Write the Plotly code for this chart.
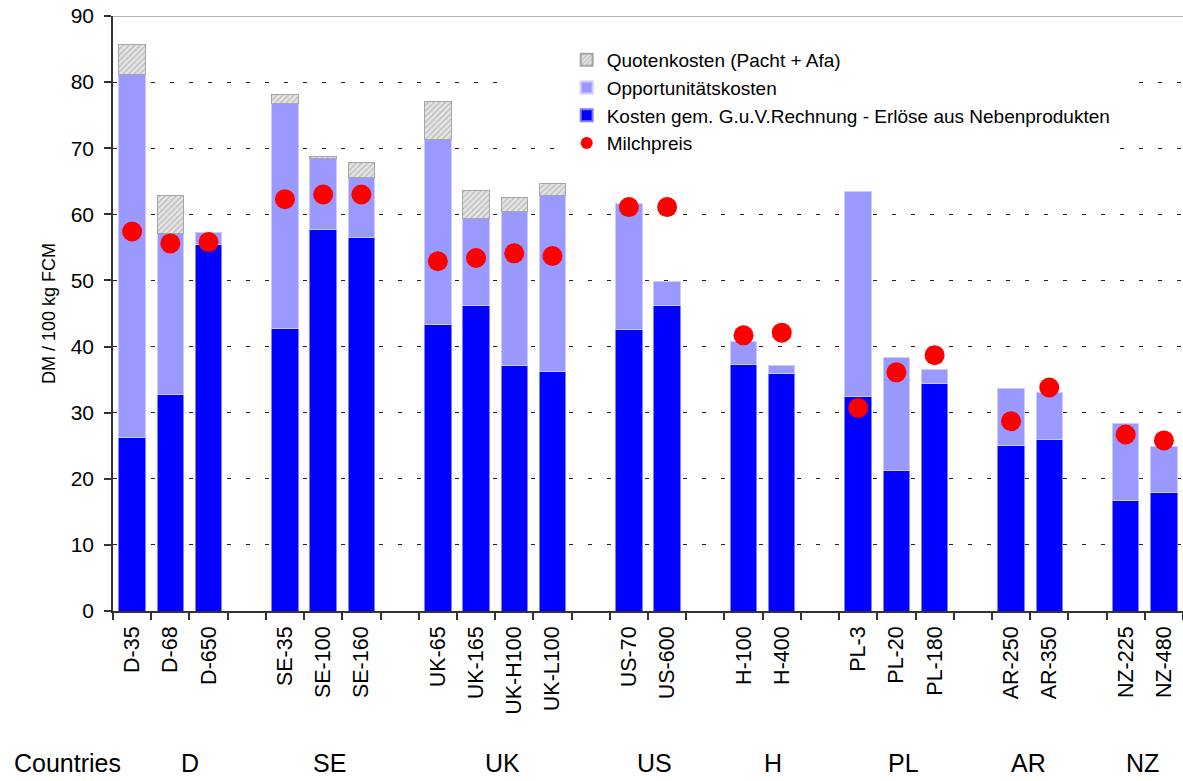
import plotly.graph_objects as go

# ---------------- data ----------------
countries = ["D", "SE", "UK", "US", "H", "PL", "AR", "NZ"]
farms = [
    ["D-35", "D-68", "D-650"],
    ["SE-35", "SE-100", "SE-160"],
    ["UK-65", "UK-165", "UK-H100", "UK-L100"],
    ["US-70", "US-600"],
    ["H-100", "H-400"],
    ["PL-3", "PL-20", "PL-180"],
    ["AR-250", "AR-350"],
    ["NZ-225", "NZ-480"],
]
kosten_guv = [26.3, 32.8, 55.4, 42.7, 57.7, 56.5, 43.3, 46.2, 37.2, 36.2,
              42.6, 46.2, 37.3, 35.9, 32.5, 21.2, 34.4, 25.0, 25.9, 16.7, 17.9]
opportunitaet = [54.8, 24.3, 1.9, 34.0, 10.7, 9.0, 28.0, 13.1, 23.3, 26.7,
                 19.1, 3.6, 3.5, 1.2, 31.0, 17.2, 2.2, 8.6, 7.1, 11.7, 7.0]
quote = [4.6, 5.7, 0.0, 1.5, 0.3, 2.4, 5.8, 4.3, 2.1, 1.8,
         0.0, 0.0, 0.0, 0.0, 0.0, 0.0, 0.0, 0.0, 0.0, 0.0, 0.0]
milchpreis = [57.4, 55.6, 55.8, 62.3, 63.0, 63.0, 52.9, 53.4, 54.1, 53.7,
              61.1, 61.1, 41.7, 42.1, 30.7, 36.1, 38.7, 28.7, 33.8, 26.7, 25.8]
y_ticks = [0, 10, 20, 30, 40, 50, 60, 70, 80, 90]

# ---------- build category axis with blank spacer slots ----------
cats, idx_map, group_centers = [], [], []
k = 0
for gi, grp in enumerate(farms):
    if gi > 0:
        cats.append(" " * gi)
        idx_map.append(None)
    start = len(cats)
    for f in grp:
        cats.append(f)
        idx_map.append(k)
        k += 1
    group_centers.append((start + len(cats) - 1) / 2)


def expand(vals):
    return [None if i is None else vals[i] for i in idx_map]


quote_full = expand(quote)
quote_line_w = [1 if (v is not None and v > 0) else 0 for v in quote_full]

FONT = "Liberation Sans, Arial, sans-serif"

fig = go.Figure()
fig.add_trace(go.Bar(
    x=cats, y=expand(kosten_guv),
    name="Kosten gem. G.u.V.Rechnung - Erlöse aus Nebenprodukten",
    marker=dict(color="#0000FF", line=dict(color="#7f7fff", width=1)),
    legendrank=3,
))
fig.add_trace(go.Bar(
    x=cats, y=expand(opportunitaet),
    name="Opportunitätskosten",
    marker=dict(color="#9999FF", line=dict(color="#ccccff", width=1)),
    legendrank=2,
))
fig.add_trace(go.Bar(
    x=cats, y=quote_full,
    name="Quotenkosten (Pacht + Afa)",
    marker=dict(color="#d9d9d9", line=dict(color="#a6a6a6", width=quote_line_w),
                pattern=dict(shape="/", fgcolor="#8c8c8c", bgcolor="#e6e6e6",
                             size=4, solidity=0.35)),
    legendrank=1,
))
fig.add_trace(go.Scatter(
    x=cats, y=expand(milchpreis), mode="markers",
    name="Milchpreis",
    marker=dict(color="#FF0000", size=20, line=dict(width=0)),
    legendrank=4,
))

# country labels row
ROW_Y = -0.283
annotations = [dict(text="Countries", xref="paper", yref="paper",
                    x=-0.0944, y=ROW_Y, xanchor="left", yanchor="bottom",
                    showarrow=False, font=dict(size=25, family=FONT, color="black"))]
shifts = [20, 6, 7, 6, 10, 7, -2, -2]
for c, cx, sh in zip(countries, group_centers, shifts):
    annotations.append(dict(text=c, xref="x", yref="paper", x=cx, y=ROW_Y,
                            xshift=sh, xanchor="center", yanchor="bottom",
                            showarrow=False,
                            font=dict(size=25, family=FONT, color="black")))

fig.update_layout(
    width=1183, height=781,
    margin=dict(l=113, r=0, t=16, b=170),
    barmode="stack", bargap=0.31,
    plot_bgcolor="white", paper_bgcolor="white",
    font=dict(family=FONT, color="black", size=20),
    legend=dict(x=0.424, y=0.958, xanchor="left", yanchor="top",
                traceorder="normal", bgcolor="white", borderwidth=0,
                font=dict(size=19, family=FONT, color="black"),
                itemsizing="constant", tracegroupgap=0),
    annotations=annotations,
    shapes=[
        dict(type="rect", xref="paper", yref="paper", x0=0.366, x1=0.945,
             y0=0.787, y1=0.963, fillcolor="white", line=dict(width=0),
             layer="above"),
        dict(type="line", xref="paper", yref="y", x0=0, x1=1, y0=90, y1=90,
             line=dict(color="#9a9a9a", width=1.5), layer="above"),
    ],
)
fig.update_xaxes(
    type="category", categoryorder="array", categoryarray=cats,
    range=[-0.5, len(cats) - 0.5],
    tickangle=-90, tickson="boundaries", ticks="outside", ticklen=7,
    tickcolor="#333", tickwidth=1.5,
    showline=True, linecolor="#333", linewidth=1.5,
    showgrid=False, tickfont=dict(size=21.5, family=FONT, color="black"),
    ticklabelstandoff=5,
)
fig.update_yaxes(
    range=[0, 90], tickvals=y_ticks, ticks="outside", ticklen=7,
    tickcolor="#333", tickwidth=1.5,
    showline=True, linecolor="#333", linewidth=1.5,
    showgrid=True, gridcolor="#222", gridwidth=1, griddash="4px,15px",
    zeroline=False, tickfont=dict(size=21, family=FONT, color="black"),
    ticklabelstandoff=6,
    title=dict(text="DM / 100 kg FCM", font=dict(size=18, family=FONT, color="black"),
               standoff=10),
)

fig.write_html("out.html",
               config={"displayModeBar": False},
               post_script="document.body.style.margin='0px';"
                           "document.body.style.padding='0px';")
